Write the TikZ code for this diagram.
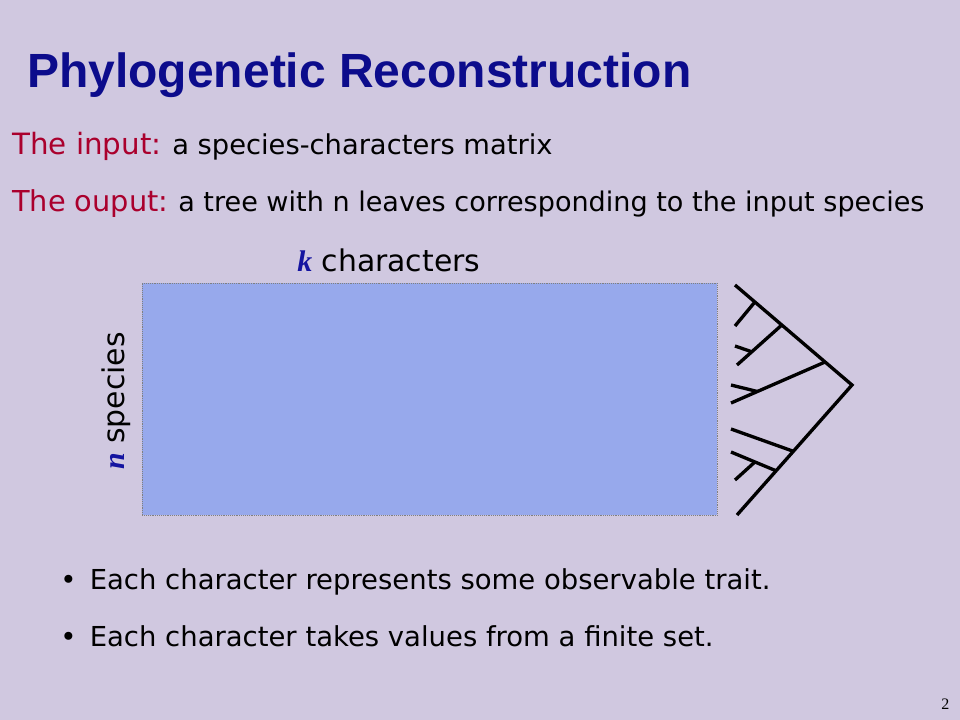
\documentclass[tikz,border=0pt]{standalone}
\usepackage{fontspec}
\setmainfont{DejaVu Sans}
\newfontfamily\titlefont{Liberation Sans}
\newfontfamily\numfont{Liberation Serif}
\usetikzlibrary{calc}
\definecolor{slidebg}{RGB}{208,200,224}
\definecolor{matrixfill}{RGB}{151,169,236}
\definecolor{titleblue}{RGB}{12,12,140}
\definecolor{labelred}{RGB}{170,0,45}
\definecolor{varblue}{RGB}{20,20,160}
\newcommand{\varname}[1]{{\color{varblue}\numfont\bfseries\itshape #1}}

\begin{document}
\begin{tikzpicture}[x=0.75pt, y=-0.75pt,
    txt/.style={inner sep=0pt, anchor=base west},
    branch/.style={line width=2.5pt}]

    % slide background
    \fill[slidebg] (0,0) rectangle (960,720);
    \useasboundingbox (0,0) rectangle (960,720);

    % title and description
    \node[txt, font=\titlefont\bfseries\fontsize{36}{40}\selectfont, text=titleblue] (title) at (27,88) {Phylogenetic Reconstruction};
    \node[txt, font=\fontsize{22}{26}\selectfont, text=labelred] (inlab) at (12,155) {The input:};
    \node[txt, font=\fontsize{20.5}{24}\selectfont] (intxt) at (172,155) {a species-characters matrix};
    \node[txt, font=\fontsize{21.6}{26}\selectfont, text=labelred] (outlab) at (12,212) {The ouput:};
    \node[txt, font=\fontsize{20.3}{24}\selectfont] (outtxt) at (178,212) {a tree with n leaves corresponding to the input species};

    % the matrix
    \node[draw=gray, densely dotted, thin, fill=matrixfill, minimum width=431.25pt, minimum height=174pt,
          inner sep=0pt, anchor=north west] (matrix) at (142,283) {};
    \node[txt, font=\fontsize{22.4}{26}\selectfont] (kchar) at (297,272) {\varname{k} characters};
    \node[txt, font=\fontsize{22.4}{26}\selectfont, rotate=90] (nspec) at (124,470) {\varname{n} species};

    % tree with the leaves facing the matrix
    \coordinate (root) at (852,385);
    \coordinate (l1) at (735,285);
    \coordinate (l2) at (735,326);
    \coordinate (l3) at (735,346);
    \coordinate (l4) at (737,365);
    \coordinate (l5) at (731,385);
    \coordinate (l6) at (731,403);
    \coordinate (l7) at (731,429);
    \coordinate (l8) at (731,452);
    \coordinate (l9) at (735,480);
    \coordinate (l10) at (737,515);
    \coordinate (a) at ($(l1)!0.17!(root)$);
    \coordinate (b) at ($(l1)!0.40!(root)$);
    \coordinate (c) at ($(l1)!0.77!(root)$);
    \coordinate (d) at ($(b)!0.67!(l4)$);
    \coordinate (e) at ($(c)!0.72!(l6)$);
    \coordinate (f) at ($(root)!0.51!(l10)$);
    \coordinate (g) at ($(root)!0.66!(l10)$);
    \coordinate (h) at ($(g)!0.47!(l8)$);

    \draw[branch] (l1) -- (root) -- (l10);
    \draw[branch] (a) -- (l2);
    \draw[branch] (b) -- (l4);
    \draw[branch] (d) -- (l3);
    \draw[branch] (c) -- (l6);
    \draw[branch] (e) -- (l5);
    \draw[branch] (f) -- (l7);
    \draw[branch] (g) -- (l8);
    \draw[branch] (h) -- (l9);

    % bullets
    \node[txt, font=\fontsize{20.6}{24}\selectfont] (b1) at (60,589) {\textbullet\hspace{10pt}Each character represents some observable trait.};
    \node[txt, font=\fontsize{20.6}{24}\selectfont] (b2) at (60,646) {\textbullet\hspace{10pt}Each character takes values from a finite set.};

    % page number
    \node[txt, font=\numfont\fontsize{12}{14}\selectfont] (pnum) at (941,709) {2};

\end{tikzpicture}
\end{document}
